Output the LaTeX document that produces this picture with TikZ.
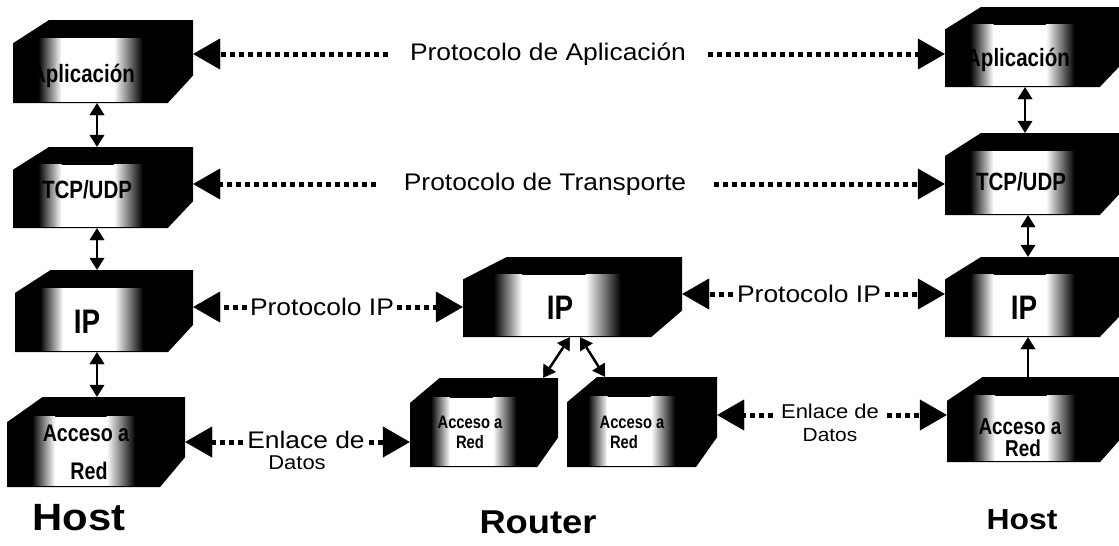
\documentclass[tikz,border=0pt]{standalone}
\usepackage{fontspec}
\setmainfont{Liberation Sans}
\newfontfamily\boxfont[FakeStretch=0.82]{Liberation Sans}
\newfontfamily\labfont[FakeStretch=1.1]{Liberation Sans}
\usetikzlibrary{arrows.meta,calc}

\tikzset{
  proto/.style={line width=5pt, dash pattern=on 5pt off 4pt,
    -{Triangle[length=27pt,width=31pt,line width=0.4pt]}},
  stack/.style={line width=2.5pt,
    {Triangle[length=12pt,width=15pt,line width=0.4pt]}-{Triangle[length=12pt,width=15pt,line width=0.4pt]}},
  stackup/.style={line width=2.5pt,
    {Triangle[length=12pt,width=15pt,line width=0.4pt]}-},
  lbl/.style={font=\labfont\fontsize{24}{26}\selectfont, inner ysep=0pt},
  boxtext/.style={font=\boxfont\bfseries\fontsize{#1}{#1}\selectfont, inner sep=0pt},
  hostlabel/.style={font=\labfont\bfseries\fontsize{#1}{#1}\selectfont, inner sep=0pt},
}

% A protocol layer drawn as a black slab with a lit face:
% #1 name, #2 x0, #3 y0, #4 x1, #5 y1
\newcommand\layerbox[5]{%
  \pgfmathsetmacro\lw{#4-#2}%
  \pgfmathsetmacro\lh{#5-#3}%
  \node[inner sep=0pt, minimum width=\lw pt, minimum height=\lh pt] (#1) at ({(#2+#4)/2},{(#3+#5)/2}) {};
  \fill[black] (#2,{#3+0.28*\lh}) -- ({#2+0.2*\lw},#3) -- (#4,#3) -- (#4,{#5-0.33*\lh})
     -- ({#4-0.14*\lw},#5) -- (#2,#5) -- cycle;
  \shade[left color=black, right color=white]
     ({#2+0.14*\lw},{#3+0.22*\lh}) rectangle ({#2+0.27*\lw},{#5-1.5});
  \fill[white] ({#2+0.27*\lw-0.2},{#3+0.22*\lh}) rectangle ({#2+0.56*\lw+0.2},{#5-1.5});
  \shade[left color=white, right color=black]
     ({#2+0.56*\lw},{#3+0.22*\lh}) rectangle ({#2+0.72*\lw},{#5-1.5});
}

\begin{document}
\begin{tikzpicture}[x=1pt,y=-1pt]
\useasboundingbox (0,0) rectangle (1119,546);
\clip (0,0) rectangle (1119,546);
\fill[white] (0,0) rectangle (1119,546);

% ---- left host stack
\layerbox{L1}{13}{20}{193}{103}
\layerbox{L2}{13}{147}{193}{228}
\layerbox{L3}{15}{270}{193}{352}
\layerbox{L4}{7}{397}{185}{487}
\node[boxtext=25] (tL1) at (83,76) {Aplicación};
\node[boxtext=25] (tL2) at (87,190) {TCP/UDP};
\node[boxtext=34] (tL3) at (87,322) {IP};
\node[boxtext=24] (tL4a) at (86,433) {Acceso a};
\node[boxtext=24] (tL4b) at (89,471) {Red};

% ---- router
\layerbox{RIP}{463}{257}{682}{337}
\layerbox{RA1}{410}{378}{558}{467}
\layerbox{RA2}{567}{377}{717}{467}
\node[boxtext=34] (tRIP) at (560,308) {IP};
\node[boxtext=18] (tRA1a) at (470,422) {Acceso a};
\node[boxtext=18] (tRA1b) at (470,442) {Red};
\node[boxtext=18] (tRA2a) at (632,422) {Acceso a};
\node[boxtext=18] (tRA2b) at (624,442) {Red};

% ---- right host stack
\layerbox{H1}{945}{7}{1125}{87}
\layerbox{H2}{945}{133}{1125}{215}
\layerbox{H3}{945}{257}{1125}{337}
\layerbox{H4}{947}{377}{1125}{462}
\node[boxtext=25] (tH1) at (1018,60) {Aplicación};
\node[boxtext=25] (tH2) at (1021,182) {TCP/UDP};
\node[boxtext=34] (tH3) at (1024,308) {IP};
\node[boxtext=23] (tH4a) at (1020,427) {Acceso a};
\node[boxtext=23] (tH4b) at (1023,448) {Red};

% ---- peer protocol connectors
\node[lbl, inner xsep=22pt] (pA) at (548,54) {Protocolo de Aplicación};
\draw[proto] (pA.west) -- (pA.west -| L1.east);
\draw[proto] (pA.east) -- (pA.east -| H1.west);

\node[lbl, inner xsep=28pt] (pT) at (545,184) {Protocolo de Transporte};
\draw[proto] (pT.west) -- (pT.west -| L2.east);
\draw[proto] (pT.east) -- (pT.east -| H2.west);

\node[lbl, inner xsep=3pt] (pI1) at (322,307) {Protocolo IP};
\draw[proto] (pI1.west) -- (pI1.west -| L3.east);
\draw[proto] (pI1.east) -- (pI1.east -| RIP.west);

\node[lbl, inner xsep=4pt] (pI2) at (809,294) {Protocolo IP};
\draw[proto] (pI2.west) -- (pI2.west -| RIP.east);
\draw[proto] (pI2.east) -- (pI2.east -| H3.west);

\node[lbl, inner xsep=4pt] (eL) at (306,440) {Enlace de};
\node[lbl, font=\labfont\fontsize{20}{22}\selectfont] (dL) at (297,463) {Datos};
\draw[proto] ([yshift=-2pt]eL.west) -- ([yshift=-2pt]eL.west -| L4.east);
\draw[proto] ([yshift=-2pt]eL.east) -- ([yshift=-2pt]eL.east -| RA1.west);

\node[lbl, font=\labfont\fontsize{20}{22}\selectfont, inner xsep=8pt] (eR) at (830,411) {Enlace de};
\node[lbl, font=\labfont\fontsize{19}{21}\selectfont] (dR) at (830,435) {Datos};
\draw[proto] ([yshift=-4pt]eR.west) -- ([yshift=-4pt]eR.west -| RA2.east);
\draw[proto] ([yshift=-4pt]eR.east) -- ([yshift=-4pt]eR.east -| H4.west);

% ---- layer-to-layer connectors
\draw[stack] ([xshift=-6pt]L1.south) -- ([xshift=-6pt]L1.south |- L2.north);
\draw[stack] ([xshift=-6pt]L2.south) -- ([xshift=-6pt]L2.south |- L3.north);
\draw[stack] ([xshift=-7pt]L3.south) -- ([xshift=-7pt]L3.south |- L4.north);

\draw[stack] ([xshift=-2.5pt]RIP.south) -- ([xshift=59pt]RA1.north);
\draw[stack] ([xshift=7.5pt]RIP.south) -- ([xshift=-37pt]RA2.north);

\draw[stack] ([xshift=-10pt]H1.south) -- ([xshift=-10pt]H1.south |- H2.north);
\draw[stack] ([xshift=-7pt]H2.south) -- ([xshift=-7pt]H2.south |- H3.north);
\draw[stackup] ([xshift=-7pt]H3.south) -- ([xshift=-7pt]H3.south |- H4.north);

% ---- system names
\node[hostlabel=38] (hostL) at (79,518) {Host};
\node[hostlabel=33] (router) at (538,522) {Router};
\node[hostlabel=29] (hostR) at (1022,520) {Host};
\end{tikzpicture}
\end{document}
